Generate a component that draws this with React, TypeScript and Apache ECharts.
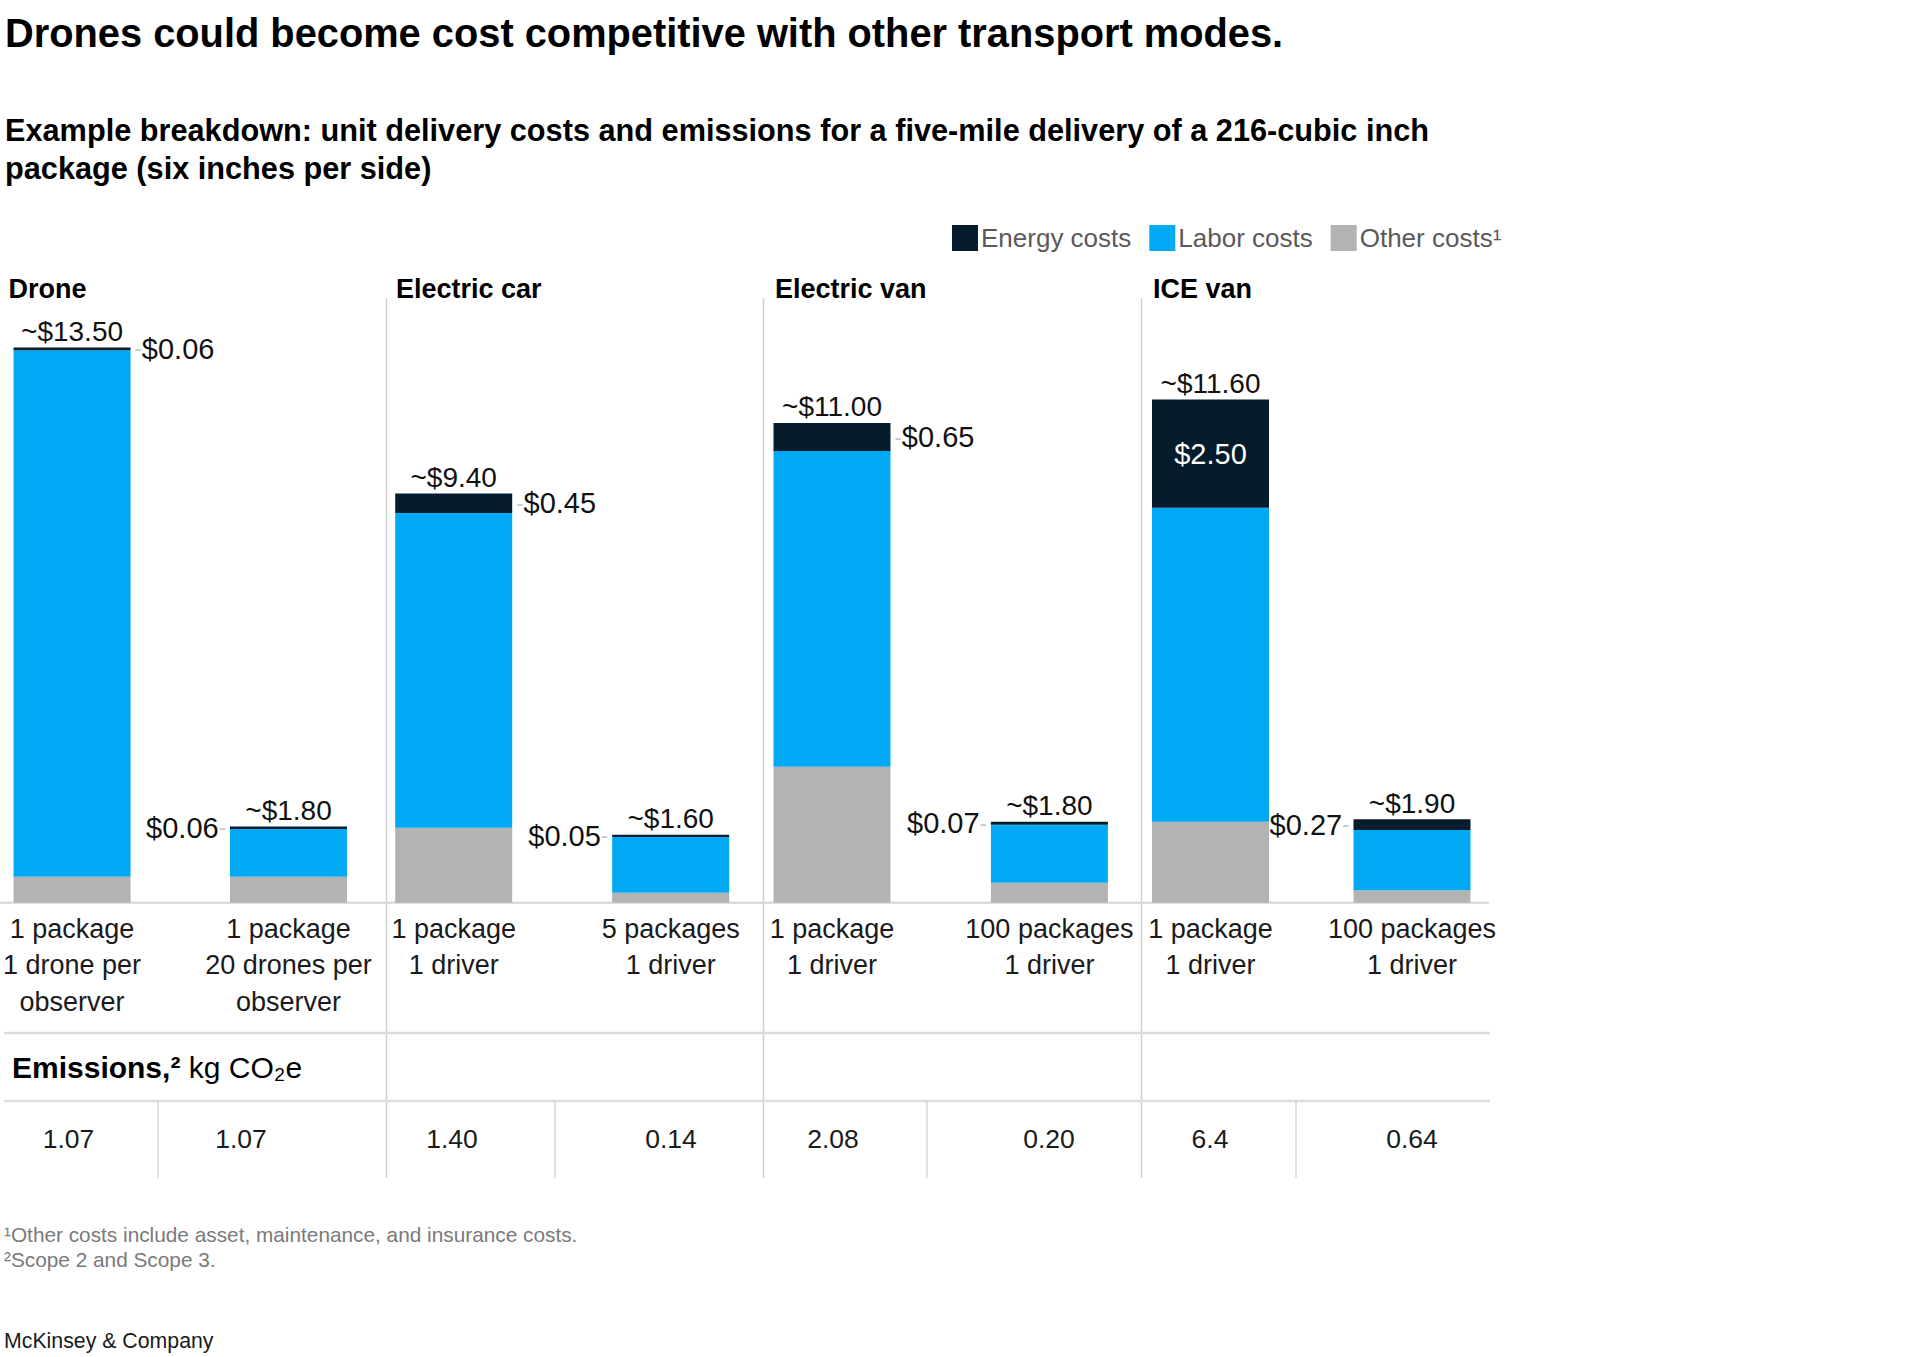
import React, { useEffect, useRef } from 'react';
import * as echarts from 'echarts';

// ---------- data ----------
const panelTitles = ['Drone', 'Electric car', 'Electric van', 'ICE van'];
const scenarios = [
  '1 package\n1 drone per\nobserver',
  '1 package\n20 drones per\nobserver',
  '1 package\n1 driver',
  '5 packages\n1 driver',
  '1 package\n1 driver',
  '100 packages\n1 driver',
  '1 package\n1 driver',
  '100 packages\n1 driver',
];
const otherCosts = [0.6, 0.6, 1.73, 0.23, 3.14, 0.46, 1.87, 0.29];
const laborCosts = [12.16, 1.1, 7.27, 1.29, 7.29, 1.34, 7.25, 1.39];
const energyCosts = [0.06, 0.06, 0.45, 0.05, 0.65, 0.07, 2.5, 0.25];
const energyLabels = ['$0.06', '$0.06', '$0.45', '$0.05', '$0.65', '$0.07', '$2.50', '$0.27'];
const totalLabels = ['~$13.50', '~$1.80', '~$9.40', '~$1.60', '~$11.00', '~$1.80', '~$11.60', '~$1.90'];
const emissions = ['1.07', '1.07', '1.40', '0.14', '2.08', '0.20', '6.4', '0.64'];
const seriesNames = ['Energy costs', 'Labor costs', 'Other costs¹'];
const footnotes = [
  '¹Other costs include asset, maintenance, and insurance costs.',
  '²Scope 2 and Scope 3.',
];

// ---------- layout ----------
const FONT = '"Liberation Sans", Arial, sans-serif';
const BAR_CENTERS = [71.5, 288.5, 453.7, 670.7, 832, 1049.4, 1210.5, 1412];
const EMISSION_X = [68.5, 241, 452, 671, 833, 1049, 1210, 1412];
const PANEL_TITLE_X = [8.6, 396, 775, 1153];
const SEPARATOR_X = [386.5, 763.5, 1141.5];
const TABLE_SEP_X = [158, 555, 927, 1296];
const BASE_Y = 902.7;
const Y_MAX = 14;
const PX_PER = 43.3;
const GRID_TOP = BASE_Y - Y_MAX * PX_PER;

const COLORS = {
  energy: '#051c2c',
  labor: '#00a9f4',
  other: '#b3b3b3',
};

function buildOption() {
  const grids: any[] = [];
  const xAxes: any[] = [];
  const yAxes: any[] = [];
  const series: any[] = [];

  for (let i = 0; i < 4; i++) {
    const a = 2 * i;
    grids.push({
      left: BAR_CENTERS[a],
      width: BAR_CENTERS[a + 1] - BAR_CENTERS[a],
      top: GRID_TOP,
      height: Y_MAX * PX_PER,
      containLabel: false,
    });
    xAxes.push({
      type: 'category',
      gridIndex: i,
      boundaryGap: false,
      data: scenarios.slice(a, a + 2),
      axisLine: { show: false },
      axisTick: { show: false },
      splitLine: { show: false },
      axisLabel: {
        interval: 0,
        margin: 8,
        fontSize: 27,
        lineHeight: 36.5,
        color: '#1a1a1a',
        fontFamily: FONT,
        align: 'center',
      },
    });
    yAxes.push({
      type: 'value',
      gridIndex: i,
      min: 0,
      max: Y_MAX,
      show: false,
      splitLine: { show: false },
    });
    const common = {
      type: 'bar',
      stack: 's' + i,
      xAxisIndex: i,
      yAxisIndex: i,
      barWidth: 117,
      silent: true,
    };
    series.push({
      ...common,
      name: 'Other costs¹',
      itemStyle: { color: COLORS.other },
      data: otherCosts.slice(a, a + 2),
    });
    series.push({
      ...common,
      name: 'Labor costs',
      itemStyle: { color: COLORS.labor },
      data: laborCosts.slice(a, a + 2),
    });
    series.push({
      ...common,
      name: 'Energy costs',
      itemStyle: { color: COLORS.energy },
      label: {
        show: true,
        fontSize: 29,
        fontFamily: FONT,
        color: '#111',
        distance: 4,
        rich: {
          l: { color: '#c8c8c8', fontSize: 22, fontFamily: FONT },
          v: { color: '#111', fontSize: 29, fontFamily: FONT },
        },
      },
      data: energyCosts.slice(a, a + 2).map((v, j) => {
        const idx = a + j;
        const txt = energyLabels[idx];
        if (idx === 6) {
          return {
            value: v,
            label: { position: 'inside', color: '#ffffff', formatter: txt },
          };
        }
        return {
          value: v,
          label: {
            position: j === 0 ? 'right' : 'left',
            formatter: j === 0 ? '{l|-}{v|' + txt + '}' : '{v|' + txt + '}{l|-}',
          },
        };
      }),
    });
    series.push({
      ...common,
      name: 'Total',
      itemStyle: { color: 'rgba(0,0,0,0)' },
      label: {
        show: true,
        position: 'top',
        distance: 2,
        fontSize: 28,
        fontFamily: FONT,
        color: '#111',
        formatter: (p: any) => totalLabels[a + p.dataIndex],
      },
      data: [0, 0],
    });
  }

  const graphics: any[] = [];
  const txt = (x: number, y: number, text: string, size: number, opts: any = {}) => ({
    type: 'text',
    x,
    y,
    silent: true,
    style: {
      text,
      fontSize: size,
      fontFamily: FONT,
      fill: opts.fill || '#000',
      fontWeight: opts.bold ? 'bold' : 'normal',
      textAlign: opts.align || 'left',
      textVerticalAlign: 'middle',
      lineHeight: opts.lineHeight,
      rich: opts.rich,
    },
  });
  const line = (x1: number, y1: number, x2: number, y2: number, color: string, w: number) => ({
    type: 'line',
    silent: true,
    shape: { x1, y1, x2, y2 },
    style: { stroke: color, lineWidth: w },
  });

  // title & subtitle
  graphics.push(txt(5, 33, 'Drones could become cost competitive with other transport modes.', 39.8, { bold: true }));
  graphics.push(txt(5, 130, 'Example breakdown: unit delivery costs and emissions for a five-mile delivery of a 216-cubic inch', 30.7, { bold: true }));
  graphics.push(txt(5, 168, 'package (six inches per side)', 30.7, { bold: true }));

  // panel titles
  panelTitles.forEach((t, i) => graphics.push(txt(PANEL_TITLE_X[i], 289, t, 27, { bold: true })));

  // separators
  SEPARATOR_X.forEach((x) => graphics.push(line(x, 298, x, 1178, '#cfcfcf', 1.5)));
  // baseline
  graphics.push(line(0, BASE_Y, 1489, BASE_Y, '#d4d4d4', 2));
  // table lines
  graphics.push(line(4, 1033, 1490, 1033, '#dcdcdc', 2.5));
  graphics.push(line(4, 1101, 1490, 1101, '#dcdcdc', 2.5));
  TABLE_SEP_X.forEach((x) => graphics.push(line(x, 1101, x, 1178, '#cfcfcf', 1.2)));

  // emissions header
  graphics.push(
    txt(12, 1067, '{b|Emissions,²} {r|kg CO₂e}', 30, {
      rich: {
        b: { fontSize: 30, fontWeight: 'bold', fontFamily: FONT, color: '#000' },
        r: { fontSize: 30, fontFamily: FONT, color: '#111' },
      },
    })
  );
  emissions.forEach((v, i) => graphics.push(txt(EMISSION_X[i], 1139, v, 26.5, { align: 'center', fill: '#1a1a1a' })));

  // footnotes
  footnotes.forEach((f, i) => graphics.push(txt(4, 1234 + i * 25, f, 20.8, { fill: '#7a7a7a' })));
  graphics.push(txt(4, 1341, 'McKinsey & Company', 21.3, { fill: '#1a1a1a' }));

  return {
    animation: false,
    backgroundColor: '#ffffff',
    textStyle: { fontFamily: FONT },
    legend: {
      data: seriesNames,
      left: 947,
      top: 220,
      icon: 'rect',
      itemWidth: 26,
      itemHeight: 26,
      itemGap: 18,
      selectedMode: false,
      textStyle: { fontSize: 26, color: '#5a5a5a', fontFamily: FONT, padding: [0, 0, 0, -2] },
    },
    grid: grids,
    xAxis: xAxes,
    yAxis: yAxes,
    series,
    graphic: graphics,
  };
}

export default function App() {
  const ref = useRef<HTMLDivElement>(null);
  useEffect(() => {
    if (!ref.current) return;
    const chart = echarts.init(ref.current, undefined, { renderer: 'svg' });
    chart.setOption(buildOption() as any);
    return () => chart.dispose();
  }, []);
  return (
    <div
      ref={ref}
      style={{ position: 'absolute', left: 0, top: 0, width: 1920, height: 1357, background: '#fff' }}
    />
  );
}
